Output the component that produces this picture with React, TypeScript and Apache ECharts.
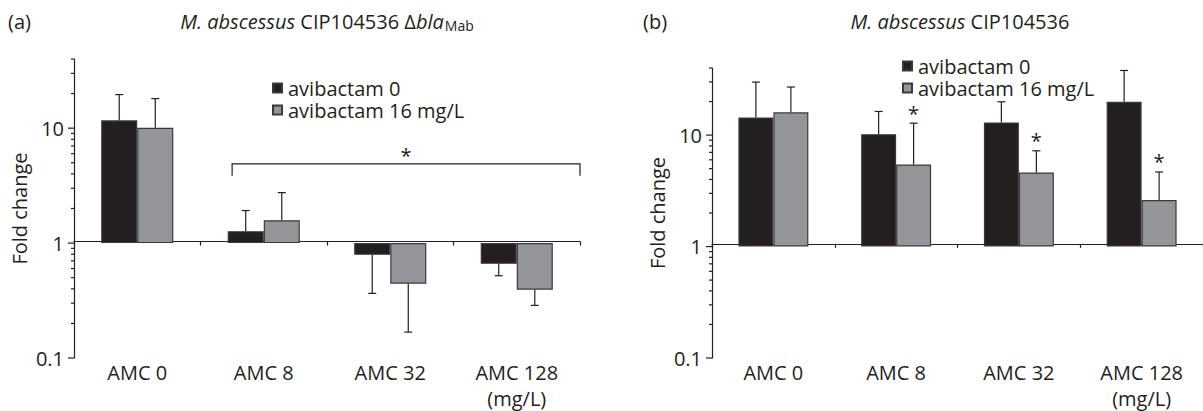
import React, { useEffect, useRef } from 'react';
import * as echarts from 'echarts';

// ---------- data ----------
const categories = ['AMC 0', 'AMC 8', 'AMC 32', 'AMC 128\n(mg/L)'];
const seriesNames = ['avibactam 0', 'avibactam 16 mg/L'];

// Panel (a): M. abscessus CIP104536 Δbla_Mab
const aAvi0 = [11.7, 1.27, 0.79, 0.66];
const aAvi0Err = [19.6, 1.92, 0.365, 0.52];
const aAvi16 = [10.1, 1.58, 0.443, 0.393];
const aAvi16Err = [18.1, 2.75, 0.168, 0.287];
const aBracket = [1, 3, 4.9, 3.85]; // from category, to category, level, tip

// Panel (b): M. abscessus CIP104536
const bAvi0 = [14.4, 10.2, 13.0, 19.9];
const bAvi0Err = [29.9, 16.3, 19.9, 38];
const bAvi16 = [16.0, 5.45, 4.62, 2.62];
const bAvi16Err = [27, 12.8, 7.23, 4.67];
const bSig16 = [0, 1, 1, 1];

const yMin = 0.1;
const yMax = 40;
const yTicksMajor = [0.1, 1, 10];
const yTicksMinor = [0.2, 0.3, 0.4, 0.5, 0.6, 0.7, 0.8, 0.9, 2, 3, 4, 5, 6, 7, 8, 9, 20, 30, 40];

// ---------- style ----------
const ink = '#231f20';
const black = '#231f20';
const gray = '#939598';
const font = '"Open Sans", "Noto Sans", sans-serif';
const FS = 20;

const gridA = { left: 74, top: 59, width: 506, height: 303 };
const gridB = { left: 712, top: 68, width: 498, height: 297 };

const decades = Math.log10(yMax) - Math.log10(yMin);
const oneOffset = (h: number) => -(h * (0 - Math.log10(yMin))) / decades;

const isPow10 = (v: number) => {
  const l = Math.log10(v);
  return Math.abs(l - Math.round(l)) < 1e-6;
};

function makeXAxes(gridIndex: number, h: number) {
  return [
    {
      type: 'category',
      gridIndex,
      data: categories,
      position: 'bottom',
      axisLine: { show: false, onZero: false },
      axisTick: { show: false },
      axisLabel: { fontSize: FS, color: ink, fontFamily: font, lineHeight: 26, margin: 1 },
    },
    {
      type: 'category',
      gridIndex,
      data: categories,
      position: 'bottom',
      offset: oneOffset(h),
      axisLine: { show: true, onZero: false, lineStyle: { color: ink, width: 1.2 } },
      axisTick: { show: true, length: 4, lineStyle: { color: ink, width: 1.2 } },
      axisLabel: { show: false },
    },
  ];
}

function makeYAxis(gridIndex: number) {
  return {
    type: 'log',
    logBase: 10,
    gridIndex,
    min: yMin,
    max: yMax,
    axisLine: { show: true, lineStyle: { color: ink, width: 1.2 } },
    axisTick: { show: false },
    minorTick: { show: false },
    splitLine: { show: false },
    axisLabel: {
      fontSize: FS,
      color: ink,
      fontFamily: font,
      margin: 10,
      formatter: (v: number) => (isPow10(v) ? String(Number(v.toPrecision(2))) : ''),
    },
    name: 'Fold change',
    nameLocation: 'middle',
    nameGap: 45,
    nameTextStyle: { fontSize: FS, color: ink, fontFamily: font },
  };
}

function barSeries(name: string, xi: number, yi: number, data: number[], color: string) {
  return {
    type: 'bar',
    name,
    xAxisIndex: xi,
    yAxisIndex: yi,
    data,
    barGap: '0%',
    barCategoryGap: '43%',
    itemStyle: { color, borderColor: '#3a3a3a', borderWidth: 1.2 },
    silent: true,
  };
}

function errSeries(xi: number, yi: number, vals: number[], errs: number[], side: number, sig?: number[]) {
  return {
    type: 'custom',
    xAxisIndex: xi,
    yAxisIndex: yi,
    silent: true,
    z: 5,
    data: vals.map((v, i) => [i, v, errs[i], sig ? sig[i] : 0]),
    encode: { x: 0, y: 1 },
    renderItem: (params: any, api: any) => {
      const i = api.value(0);
      const v = api.value(1);
      const e = api.value(2);
      const s = api.value(3);
      const p0 = api.coord([i, v]);
      const band = api.coord([1, v])[0] - api.coord([0, v])[0];
      const x = p0[0] + side * band * 0.1425;
      const pe = api.coord([i, e]);
      const st = { stroke: ink, lineWidth: 1.2 };
      const children: any[] = [
        { type: 'line', shape: { x1: x, y1: p0[1], x2: x, y2: pe[1] }, style: st },
        { type: 'line', shape: { x1: x - 4, y1: pe[1], x2: x + 4, y2: pe[1] }, style: st },
      ];
      if (s) {
        children.push({
          type: 'text',
          x,
          y: pe[1] - 10,
          style: { text: '*', fontSize: FS, fontFamily: font, fill: ink, align: 'center', verticalAlign: 'middle' },
        });
      }
      return { type: 'group', children };
    },
  };
}

function tickSeries(xi: number, yi: number) {
  return {
    type: 'custom',
    xAxisIndex: xi,
    yAxisIndex: yi,
    silent: true,
    z: 5,
    data: [...yTicksMajor.map((v) => [0, v, 6]), ...yTicksMinor.map((v) => [0, v, 3])],
    encode: { x: 0, y: 1 },
    renderItem: (params: any, api: any) => {
      const y = api.coord([0, api.value(1)])[1];
      const x = params.coordSys.x;
      const len = api.value(2);
      return { type: 'line', shape: { x1: x - len, y1: y, x2: x, y2: y }, style: { stroke: ink, lineWidth: 1.2 } };
    },
  };
}

function bracketSeries(xi: number, yi: number, b: number[]) {
  return {
    type: 'custom',
    xAxisIndex: xi,
    yAxisIndex: yi,
    silent: true,
    z: 5,
    data: [b],
    encode: { x: 0, y: 2 },
    renderItem: (params: any, api: any) => {
      const from = api.value(0);
      const to = api.value(1);
      const lvl = api.value(2);
      const tip = api.value(3);
      const pf = api.coord([from, lvl]);
      const pt = api.coord([to, lvl]);
      const band = api.coord([1, lvl])[0] - api.coord([0, lvl])[0];
      const x1 = pf[0] - band * 0.25;
      const x2 = pt[0] + band * 0.5;
      const y = pf[1];
      const yt = api.coord([from, tip])[1];
      return {
        type: 'group',
        children: [
          {
            type: 'polyline',
            shape: { points: [[x1, yt], [x1, y], [x2, y], [x2, yt]] },
            style: { stroke: ink, lineWidth: 1.2, fill: 'none' },
          },
          {
            type: 'text',
            x: (x1 + x2) / 2,
            y: y - 8,
            style: { text: '*', fontSize: FS, fontFamily: font, fill: ink, align: 'center', verticalAlign: 'middle' },
          },
        ],
      };
    },
  };
}

const richTitle = {
  i: { fontStyle: 'italic', fontSize: FS, fontFamily: font, fill: ink, lineHeight: 22, verticalAlign: 'middle' },
  n: { fontSize: FS, fontFamily: font, fill: ink, lineHeight: 22, verticalAlign: 'middle' },
  s: { fontSize: 14, fontFamily: font, fill: ink, lineHeight: 8, verticalAlign: 'bottom', padding: [0, 0, 0, 1] },
};

export default function App() {
  const ref = useRef<HTMLDivElement>(null);
  useEffect(() => {
    if (!ref.current) return;
    const chart = echarts.init(ref.current, undefined, { renderer: 'svg' });
    const legendBase = {
      orient: 'vertical',
      icon: 'rect',
      itemWidth: 9,
      itemHeight: 9,
      itemGap: 2,
      padding: 0,
      selectedMode: false,
      data: seriesNames,
      textStyle: { fontSize: FS, color: ink, fontFamily: font, lineHeight: 20, padding: [0, 0, 0, 1] },
    };
    chart.setOption({
      animation: false,
      backgroundColor: '#ffffff',
      grid: [
        { ...gridA, containLabel: false },
        { ...gridB, containLabel: false },
      ],
      xAxis: [...makeXAxes(0, gridA.height), ...makeXAxes(1, gridB.height)],
      yAxis: [makeYAxis(0), makeYAxis(1)],
      legend: [
        { ...legendBase, left: 272, top: 78 },
        { ...legendBase, left: 902, top: 56 },
      ],
      graphic: [
        { type: 'text', x: 8, y: 21, style: { text: '(a)', fontSize: FS, fontFamily: font, fill: ink, verticalAlign: 'middle' } },
        { type: 'text', x: 643, y: 21, style: { text: '(b)', fontSize: FS, fontFamily: font, fill: ink, verticalAlign: 'middle' } },
        {
          type: 'text',
          x: 327,
          y: 21,
          style: {
            text: '{i|M. abscessus}{n| CIP104536 Δ}{i|bla}{s|Mab}',
            rich: richTitle,
            fontSize: FS,
            fontFamily: font,
            fill: ink,
            align: 'center',
            verticalAlign: 'middle',
          },
        },
        {
          type: 'text',
          x: 960,
          y: 21,
          style: {
            text: '{i|M. abscessus}{n| CIP104536}',
            rich: richTitle,
            fontSize: FS,
            fontFamily: font,
            fill: ink,
            align: 'center',
            verticalAlign: 'middle',
          },
        },
      ],
      series: [
        barSeries(seriesNames[0], 0, 0, aAvi0, black),
        barSeries(seriesNames[1], 0, 0, aAvi16, gray),
        barSeries(seriesNames[0], 2, 1, bAvi0, black),
        barSeries(seriesNames[1], 2, 1, bAvi16, gray),
        errSeries(0, 0, aAvi0, aAvi0Err, -1),
        errSeries(0, 0, aAvi16, aAvi16Err, 1),
        errSeries(2, 1, bAvi0, bAvi0Err, -1),
        errSeries(2, 1, bAvi16, bAvi16Err, 1, bSig16),
        tickSeries(0, 0),
        tickSeries(2, 1),
        bracketSeries(0, 0, aBracket),
      ],
    });
    return () => chart.dispose();
  }, []);
  return <div ref={ref} style={{ position: 'absolute', left: 0, top: 0, width: 1203, height: 411 }} />;
}
